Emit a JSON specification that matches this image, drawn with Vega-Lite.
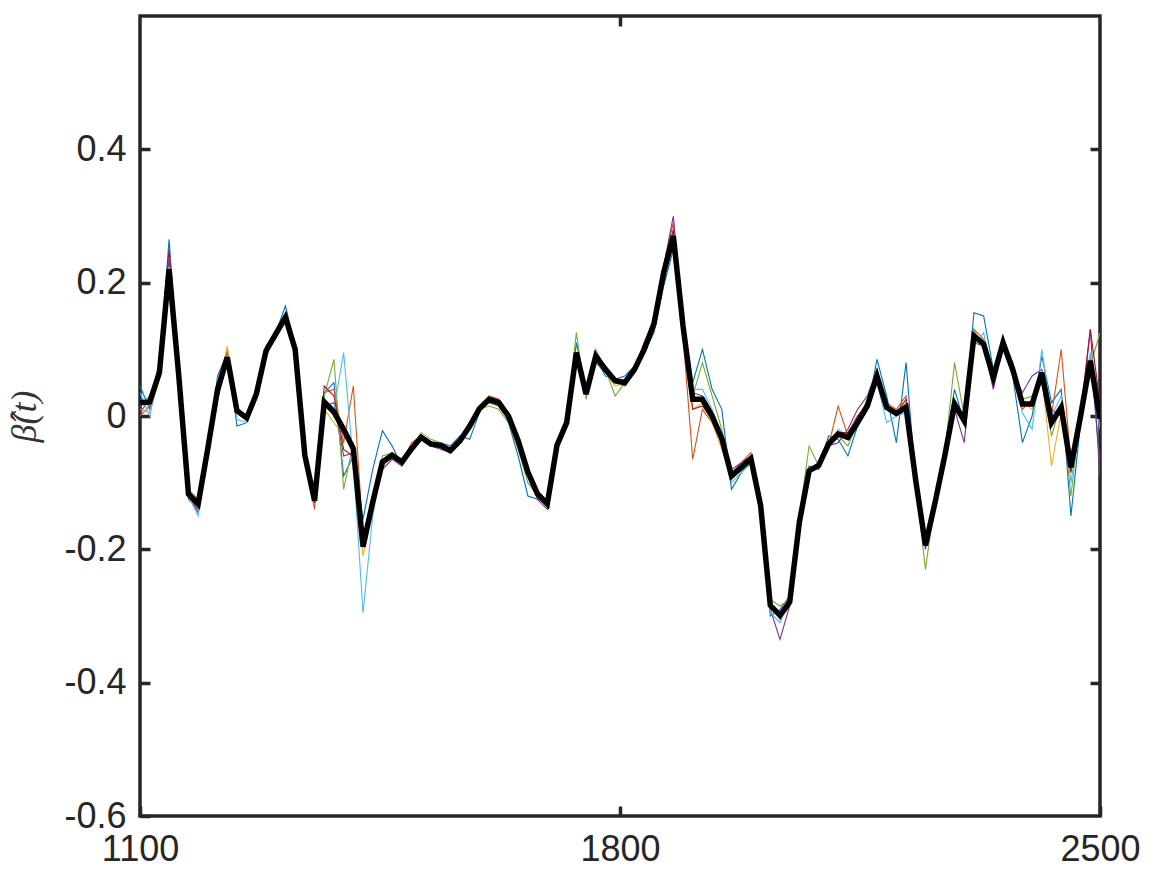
{
  "$schema": "https://vega.github.io/schema/vega-lite/v6.json",
  "width": 960,
  "height": 800,
  "autosize": {"type": "none"},
  "padding": {"left": 140, "top": 16, "right": 67, "bottom": 59},
  "background": "white",
  "config": {
    "view": {"stroke": "#262626", "strokeWidth": 3.5},
    "axis": {"domain": false, "grid": false, "tickColor": "#262626", "tickWidth": 3.5, "tickSize": -10, "labelColor": "#262626", "labelFont": "Liberation Sans", "labelFontSize": 36, "labelFlush": false, "labelOverlap": false}
  },
  "data": {"values": [
    {"x": 1100, "b": 0.020, "c1": 0.045, "c2": 0.000, "c3": 0.010, "c4": 0.005, "c5": 0.015, "c6": 0.035, "c7": 0.025},
    {"x": 1114.14, "b": 0.021, "c1": 0.010, "c2": 0.015, "c3": 0.005, "c4": 0.025, "c5": 0.030, "c6": 0.000, "c7": 0.020},
    {"x": 1128.28, "b": 0.065, "c1": 0.070, "c2": 0.060, "c3": 0.055, "c4": 0.075, "c5": 0.060, "c6": 0.065, "c7": 0.080},
    {"x": 1142.42, "b": 0.220, "c1": 0.265, "c2": 0.210, "c3": 0.200, "c4": 0.235, "c5": 0.210, "c6": 0.225, "c7": 0.250},
    {"x": 1156.57, "b": 0.060, "c1": 0.060, "c2": 0.055, "c3": 0.060, "c4": 0.050, "c5": 0.060, "c6": 0.065, "c7": 0.060},
    {"x": 1170.71, "b": -0.117, "c1": -0.125, "c2": -0.120, "c3": -0.115, "c4": -0.120, "c5": -0.110, "c6": -0.120, "c7": -0.115},
    {"x": 1184.85, "b": -0.132, "c1": -0.140, "c2": -0.140, "c3": -0.130, "c4": -0.145, "c5": -0.125, "c6": -0.150, "c7": -0.135},
    {"x": 1198.99, "b": -0.048, "c1": -0.050, "c2": -0.045, "c3": -0.050, "c4": -0.060, "c5": -0.040, "c6": -0.050, "c7": -0.045},
    {"x": 1213.13, "b": 0.040, "c1": 0.060, "c2": 0.045, "c3": 0.035, "c4": 0.025, "c5": 0.045, "c6": 0.040, "c7": 0.040},
    {"x": 1227.27, "b": 0.088, "c1": 0.095, "c2": 0.100, "c3": 0.105, "c4": 0.080, "c5": 0.085, "c6": 0.090, "c7": 0.085},
    {"x": 1241.41, "b": 0.008, "c1": -0.015, "c2": 0.010, "c3": 0.005, "c4": 0.010, "c5": 0.010, "c6": -0.005, "c7": 0.005},
    {"x": 1255.56, "b": -0.003, "c1": -0.010, "c2": -0.005, "c3": 0.000, "c4": -0.005, "c5": -0.005, "c6": -0.010, "c7": 0.000},
    {"x": 1269.70, "b": 0.033, "c1": 0.030, "c2": 0.035, "c3": 0.030, "c4": 0.030, "c5": 0.035, "c6": 0.025, "c7": 0.035},
    {"x": 1283.84, "b": 0.098, "c1": 0.105, "c2": 0.090, "c3": 0.095, "c4": 0.100, "c5": 0.100, "c6": 0.095, "c7": 0.100},
    {"x": 1297.98, "b": 0.123, "c1": 0.125, "c2": 0.120, "c3": 0.120, "c4": 0.125, "c5": 0.120, "c6": 0.125, "c7": 0.120},
    {"x": 1312.12, "b": 0.148, "c1": 0.165, "c2": 0.150, "c3": 0.145, "c4": 0.150, "c5": 0.155, "c6": 0.150, "c7": 0.145},
    {"x": 1326.26, "b": 0.100, "c1": 0.105, "c2": 0.100, "c3": 0.095, "c4": 0.100, "c5": 0.100, "c6": 0.105, "c7": 0.100},
    {"x": 1340.40, "b": -0.059, "c1": -0.055, "c2": -0.065, "c3": -0.060, "c4": -0.060, "c5": -0.060, "c6": -0.055, "c7": -0.060},
    {"x": 1354.55, "b": -0.127, "c1": -0.125, "c2": -0.140, "c3": -0.125, "c4": -0.130, "c5": -0.125, "c6": -0.125, "c7": -0.130},
    {"x": 1368.69, "b": 0.021, "c1": 0.035, "c2": 0.035, "c3": 0.010, "c4": 0.015, "c5": 0.030, "c6": 0.020, "c7": 0.045},
    {"x": 1382.83, "b": 0.006, "c1": 0.050, "c2": 0.040, "c3": -0.010, "c4": 0.020, "c5": 0.085, "c6": 0.010, "c7": 0.030},
    {"x": 1396.97, "b": -0.020, "c1": -0.090, "c2": -0.040, "c3": -0.030, "c4": -0.060, "c5": -0.110, "c6": 0.095, "c7": -0.050},
    {"x": 1411.11, "b": -0.049, "c1": -0.060, "c2": 0.045, "c3": -0.045, "c4": -0.055, "c5": -0.040, "c6": -0.070, "c7": -0.060},
    {"x": 1425.25, "b": -0.196, "c1": -0.155, "c2": -0.180, "c3": -0.210, "c4": -0.190, "c5": -0.180, "c6": -0.295, "c7": -0.185},
    {"x": 1439.39, "b": -0.129, "c1": -0.080, "c2": -0.125, "c3": -0.140, "c4": -0.135, "c5": -0.120, "c6": -0.150, "c7": -0.130},
    {"x": 1453.54, "b": -0.069, "c1": -0.022, "c2": -0.075, "c3": -0.075, "c4": -0.080, "c5": -0.060, "c6": -0.070, "c7": -0.070},
    {"x": 1467.68, "b": -0.059, "c1": -0.045, "c2": -0.060, "c3": -0.055, "c4": -0.065, "c5": -0.055, "c6": -0.060, "c7": -0.060},
    {"x": 1481.82, "b": -0.069, "c1": -0.075, "c2": -0.070, "c3": -0.065, "c4": -0.075, "c5": -0.065, "c6": -0.070, "c7": -0.070},
    {"x": 1495.96, "b": -0.049, "c1": -0.050, "c2": -0.040, "c3": -0.045, "c4": -0.055, "c5": -0.045, "c6": -0.050, "c7": -0.050},
    {"x": 1510.10, "b": -0.032, "c1": -0.030, "c2": -0.030, "c3": -0.035, "c4": -0.035, "c5": -0.025, "c6": -0.035, "c7": -0.030},
    {"x": 1524.24, "b": -0.042, "c1": -0.045, "c2": -0.045, "c3": -0.040, "c4": -0.045, "c5": -0.035, "c6": -0.040, "c7": -0.042},
    {"x": 1538.38, "b": -0.044, "c1": -0.040, "c2": -0.048, "c3": -0.045, "c4": -0.050, "c5": -0.040, "c6": -0.045, "c7": -0.045},
    {"x": 1552.53, "b": -0.052, "c1": -0.045, "c2": -0.055, "c3": -0.050, "c4": -0.055, "c5": -0.050, "c6": -0.050, "c7": -0.052},
    {"x": 1566.67, "b": -0.037, "c1": -0.030, "c2": -0.040, "c3": -0.035, "c4": -0.040, "c5": -0.035, "c6": -0.035, "c7": -0.037},
    {"x": 1580.81, "b": -0.015, "c1": -0.035, "c2": -0.015, "c3": -0.010, "c4": -0.020, "c5": -0.015, "c6": -0.015, "c7": -0.015},
    {"x": 1594.95, "b": 0.011, "c1": 0.005, "c2": 0.015, "c3": 0.015, "c4": 0.010, "c5": 0.010, "c6": 0.015, "c7": 0.012},
    {"x": 1609.09, "b": 0.025, "c1": 0.030, "c2": 0.030, "c3": 0.030, "c4": 0.020, "c5": 0.015, "c6": 0.025, "c7": 0.028},
    {"x": 1623.23, "b": 0.020, "c1": 0.025, "c2": 0.025, "c3": 0.020, "c4": 0.015, "c5": 0.010, "c6": 0.020, "c7": 0.022},
    {"x": 1637.37, "b": 0.000, "c1": -0.010, "c2": 0.005, "c3": 0.000, "c4": -0.005, "c5": -0.010, "c6": -0.005, "c7": 0.000},
    {"x": 1651.52, "b": -0.037, "c1": -0.060, "c2": -0.035, "c3": -0.040, "c4": -0.040, "c5": -0.050, "c6": -0.045, "c7": -0.035},
    {"x": 1665.66, "b": -0.084, "c1": -0.120, "c2": -0.080, "c3": -0.085, "c4": -0.090, "c5": -0.100, "c6": -0.090, "c7": -0.080},
    {"x": 1679.80, "b": -0.117, "c1": -0.125, "c2": -0.115, "c3": -0.120, "c4": -0.125, "c5": -0.120, "c6": -0.120, "c7": -0.115},
    {"x": 1693.94, "b": -0.132, "c1": -0.130, "c2": -0.135, "c3": -0.125, "c4": -0.140, "c5": -0.125, "c6": -0.135, "c7": -0.130},
    {"x": 1708.08, "b": -0.044, "c1": -0.045, "c2": -0.040, "c3": -0.045, "c4": -0.050, "c5": -0.040, "c6": -0.045, "c7": -0.040},
    {"x": 1722.22, "b": -0.010, "c1": -0.015, "c2": -0.010, "c3": -0.010, "c4": -0.015, "c5": -0.005, "c6": -0.010, "c7": -0.005},
    {"x": 1736.36, "b": 0.095, "c1": 0.110, "c2": 0.090, "c3": 0.090, "c4": 0.090, "c5": 0.125, "c6": 0.095, "c7": 0.095},
    {"x": 1750.51, "b": 0.033, "c1": 0.040, "c2": 0.040, "c3": 0.030, "c4": 0.045, "c5": 0.025, "c6": 0.030, "c7": 0.035},
    {"x": 1764.65, "b": 0.090, "c1": 0.085, "c2": 0.085, "c3": 0.085, "c4": 0.080, "c5": 0.100, "c6": 0.095, "c7": 0.090},
    {"x": 1778.79, "b": 0.070, "c1": 0.060, "c2": 0.065, "c3": 0.065, "c4": 0.065, "c5": 0.070, "c6": 0.070, "c7": 0.075},
    {"x": 1792.93, "b": 0.053, "c1": 0.055, "c2": 0.050, "c3": 0.045, "c4": 0.050, "c5": 0.030, "c6": 0.055, "c7": 0.055},
    {"x": 1807.07, "b": 0.050, "c1": 0.060, "c2": 0.045, "c3": 0.050, "c4": 0.055, "c5": 0.050, "c6": 0.050, "c7": 0.050},
    {"x": 1821.21, "b": 0.070, "c1": 0.075, "c2": 0.070, "c3": 0.065, "c4": 0.070, "c5": 0.065, "c6": 0.075, "c7": 0.072},
    {"x": 1835.35, "b": 0.100, "c1": 0.095, "c2": 0.105, "c3": 0.100, "c4": 0.110, "c5": 0.095, "c6": 0.095, "c7": 0.110},
    {"x": 1849.49, "b": 0.138, "c1": 0.125, "c2": 0.140, "c3": 0.135, "c4": 0.145, "c5": 0.135, "c6": 0.130, "c7": 0.140},
    {"x": 1863.64, "b": 0.215, "c1": 0.195, "c2": 0.225, "c3": 0.210, "c4": 0.225, "c5": 0.215, "c6": 0.205, "c7": 0.220},
    {"x": 1877.78, "b": 0.270, "c1": 0.250, "c2": 0.290, "c3": 0.265, "c4": 0.300, "c5": 0.275, "c6": 0.255, "c7": 0.280},
    {"x": 1891.92, "b": 0.135, "c1": 0.140, "c2": 0.120, "c3": 0.130, "c4": 0.140, "c5": 0.120, "c6": 0.145, "c7": 0.130},
    {"x": 1906.06, "b": 0.025, "c1": 0.050, "c2": -0.065, "c3": 0.010, "c4": 0.035, "c5": 0.030, "c6": 0.040, "c7": 0.010},
    {"x": 1920.20, "b": 0.025, "c1": 0.100, "c2": 0.010, "c3": 0.020, "c4": 0.030, "c5": 0.080, "c6": 0.040, "c7": 0.015},
    {"x": 1934.34, "b": 0.000, "c1": 0.040, "c2": -0.010, "c3": -0.010, "c4": 0.005, "c5": 0.030, "c6": 0.010, "c7": -0.005},
    {"x": 1948.48, "b": -0.034, "c1": 0.010, "c2": -0.040, "c3": -0.050, "c4": -0.030, "c5": -0.020, "c6": -0.035, "c7": -0.040},
    {"x": 1962.63, "b": -0.090, "c1": -0.110, "c2": -0.085, "c3": -0.095, "c4": -0.080, "c5": -0.095, "c6": -0.100, "c7": -0.090},
    {"x": 1976.77, "b": -0.077, "c1": -0.085, "c2": -0.070, "c3": -0.080, "c4": -0.070, "c5": -0.080, "c6": -0.085, "c7": -0.075},
    {"x": 1990.91, "b": -0.064, "c1": -0.070, "c2": -0.055, "c3": -0.065, "c4": -0.060, "c5": -0.070, "c6": -0.065, "c7": -0.060},
    {"x": 2005.05, "b": -0.134, "c1": -0.130, "c2": -0.130, "c3": -0.135, "c4": -0.140, "c5": -0.130, "c6": -0.130, "c7": -0.135},
    {"x": 2019.19, "b": -0.284, "c1": -0.300, "c2": -0.280, "c3": -0.285, "c4": -0.290, "c5": -0.275, "c6": -0.295, "c7": -0.285},
    {"x": 2033.33, "b": -0.299, "c1": -0.290, "c2": -0.305, "c3": -0.300, "c4": -0.335, "c5": -0.285, "c6": -0.310, "c7": -0.300},
    {"x": 2047.47, "b": -0.279, "c1": -0.270, "c2": -0.285, "c3": -0.280, "c4": -0.285, "c5": -0.275, "c6": -0.275, "c7": -0.280},
    {"x": 2061.62, "b": -0.159, "c1": -0.150, "c2": -0.165, "c3": -0.160, "c4": -0.165, "c5": -0.150, "c6": -0.155, "c7": -0.160},
    {"x": 2075.76, "b": -0.082, "c1": -0.075, "c2": -0.080, "c3": -0.085, "c4": -0.085, "c5": -0.045, "c6": -0.080, "c7": -0.080},
    {"x": 2089.90, "b": -0.074, "c1": -0.080, "c2": -0.070, "c3": -0.075, "c4": -0.078, "c5": -0.075, "c6": -0.070, "c7": -0.072},
    {"x": 2104.04, "b": -0.042, "c1": -0.030, "c2": -0.045, "c3": -0.040, "c4": -0.045, "c5": -0.035, "c6": -0.050, "c7": -0.040},
    {"x": 2118.18, "b": -0.027, "c1": -0.035, "c2": 0.015, "c3": -0.025, "c4": -0.040, "c5": -0.030, "c6": -0.020, "c7": -0.025},
    {"x": 2132.32, "b": -0.032, "c1": -0.060, "c2": -0.030, "c3": -0.035, "c4": -0.020, "c5": -0.045, "c6": -0.030, "c7": -0.025},
    {"x": 2146.46, "b": -0.010, "c1": -0.015, "c2": 0.000, "c3": -0.005, "c4": 0.010, "c5": -0.010, "c6": -0.010, "c7": 0.000},
    {"x": 2160.61, "b": 0.015, "c1": 0.010, "c2": 0.020, "c3": 0.020, "c4": 0.030, "c5": 0.025, "c6": 0.010, "c7": 0.015},
    {"x": 2174.75, "b": 0.060, "c1": 0.085, "c2": 0.055, "c3": 0.060, "c4": 0.070, "c5": 0.065, "c6": 0.050, "c7": 0.060},
    {"x": 2188.89, "b": 0.013, "c1": 0.030, "c2": 0.020, "c3": 0.015, "c4": 0.010, "c5": 0.010, "c6": -0.010, "c7": 0.015},
    {"x": 2203.03, "b": 0.004, "c1": -0.040, "c2": 0.010, "c3": 0.005, "c4": 0.000, "c5": 0.005, "c6": 0.000, "c7": 0.005},
    {"x": 2217.17, "b": 0.013, "c1": 0.080, "c2": 0.030, "c3": 0.015, "c4": 0.015, "c5": 0.020, "c6": 0.005, "c7": 0.025},
    {"x": 2231.31, "b": -0.097, "c1": -0.100, "c2": -0.090, "c3": -0.100, "c4": -0.095, "c5": -0.100, "c6": -0.095, "c7": -0.095},
    {"x": 2245.45, "b": -0.194, "c1": -0.190, "c2": -0.185, "c3": -0.195, "c4": -0.200, "c5": -0.230, "c6": -0.190, "c7": -0.195},
    {"x": 2259.60, "b": -0.129, "c1": -0.125, "c2": -0.135, "c3": -0.130, "c4": -0.130, "c5": -0.125, "c6": -0.125, "c7": -0.130},
    {"x": 2273.74, "b": -0.059, "c1": -0.050, "c2": -0.065, "c3": -0.060, "c4": -0.065, "c5": -0.055, "c6": -0.060, "c7": -0.060},
    {"x": 2287.88, "b": 0.018, "c1": 0.040, "c2": 0.010, "c3": 0.015, "c4": 0.010, "c5": 0.080, "c6": 0.025, "c7": 0.015},
    {"x": 2302.02, "b": -0.007, "c1": -0.010, "c2": -0.010, "c3": -0.005, "c4": -0.040, "c5": 0.000, "c6": -0.015, "c7": -0.010},
    {"x": 2316.16, "b": 0.120, "c1": 0.155, "c2": 0.130, "c3": 0.115, "c4": 0.110, "c5": 0.130, "c6": 0.105, "c7": 0.125},
    {"x": 2330.30, "b": 0.108, "c1": 0.150, "c2": 0.115, "c3": 0.105, "c4": 0.105, "c5": 0.100, "c6": 0.125, "c7": 0.110},
    {"x": 2344.44, "b": 0.058, "c1": 0.070, "c2": 0.060, "c3": 0.060, "c4": 0.040, "c5": 0.050, "c6": 0.050, "c7": 0.055},
    {"x": 2358.59, "b": 0.110, "c1": 0.100, "c2": 0.120, "c3": 0.105, "c4": 0.105, "c5": 0.115, "c6": 0.115, "c7": 0.110},
    {"x": 2372.73, "b": 0.070, "c1": 0.060, "c2": 0.075, "c3": 0.065, "c4": 0.065, "c5": 0.070, "c6": 0.060, "c7": 0.080},
    {"x": 2386.87, "b": 0.018, "c1": -0.040, "c2": 0.010, "c3": 0.020, "c4": 0.035, "c5": 0.025, "c6": 0.005, "c7": 0.020},
    {"x": 2401.01, "b": 0.018, "c1": 0.000, "c2": 0.025, "c3": 0.010, "c4": 0.060, "c5": 0.030, "c6": -0.020, "c7": 0.015},
    {"x": 2415.15, "b": 0.065, "c1": 0.090, "c2": 0.055, "c3": 0.060, "c4": 0.070, "c5": 0.050, "c6": 0.100, "c7": 0.060},
    {"x": 2429.29, "b": -0.010, "c1": 0.020, "c2": 0.000, "c3": -0.075, "c4": 0.010, "c5": -0.030, "c6": 0.000, "c7": -0.015},
    {"x": 2443.43, "b": 0.013, "c1": 0.040, "c2": 0.100, "c3": 0.005, "c4": 0.000, "c5": 0.020, "c6": 0.030, "c7": 0.015},
    {"x": 2457.58, "b": -0.077, "c1": -0.150, "c2": -0.070, "c3": -0.060, "c4": -0.080, "c5": -0.120, "c6": -0.100, "c7": -0.085},
    {"x": 2471.72, "b": 0.000, "c1": -0.010, "c2": -0.010, "c3": 0.020, "c4": -0.005, "c5": 0.005, "c6": 0.000, "c7": 0.005},
    {"x": 2485.86, "b": 0.083, "c1": 0.090, "c2": 0.070, "c3": 0.085, "c4": 0.130, "c5": 0.075, "c6": 0.095, "c7": 0.130},
    {"x": 2500, "b": -0.004, "c1": -0.070, "c2": 0.010, "c3": 0.000, "c4": -0.090, "c5": 0.125, "c6": -0.020, "c7": 0.020}
  ]},
  "layer": [
    {
      "transform": [{"fold": ["c1", "c2", "c3", "c4", "c5", "c6", "c7"], "as": ["run", "v"]}],
      "mark": {"type": "line", "strokeWidth": 1.1, "clip": true},
      "encoding": {
        "x": {"field": "x", "type": "quantitative", "scale": {"domain": [1100, 2500], "nice": false, "zero": false}, "axis": {"orient": "bottom", "values": [1100, 1800, 2500], "format": "d", "labelPadding": 26, "title": null}},
        "y": {"field": "v", "type": "quantitative", "scale": {"domain": [-0.6, 0.6], "nice": false, "zero": false}, "axis": {"orient": "left", "values": [-0.6, -0.4, -0.2, 0, 0.2, 0.4], "labelExpr": "toString(datum.value)", "labelPadding": 24, "title": "β̂(t)", "titleFont": "Liberation Serif", "titleFontStyle": "italic", "titleFontWeight": "normal", "titleFontSize": 36, "titleColor": "#333333", "titlePadding": 20}},
        "color": {"field": "run", "type": "nominal", "scale": {"domain": ["c1", "c2", "c3", "c4", "c5", "c6", "c7"], "range": ["#0072BD", "#D95319", "#EDB120", "#7E2F8E", "#77AC30", "#4DBEEE", "#A2142F"]}, "legend": null}
      }
    },
    {
      "mark": {"type": "line", "strokeWidth": 5.5, "color": "black", "clip": true},
      "encoding": {
        "x": {"field": "x", "type": "quantitative", "axis": {"orient": "top", "values": [1800], "labels": false, "title": null}},
        "y": {"field": "b", "type": "quantitative", "axis": {"orient": "right", "values": [-0.4, -0.2, 0, 0.2, 0.4], "labels": false, "title": null}}
      }
    }
  ],
  "resolve": {"axis": {"x": "independent", "y": "independent"}}
}
